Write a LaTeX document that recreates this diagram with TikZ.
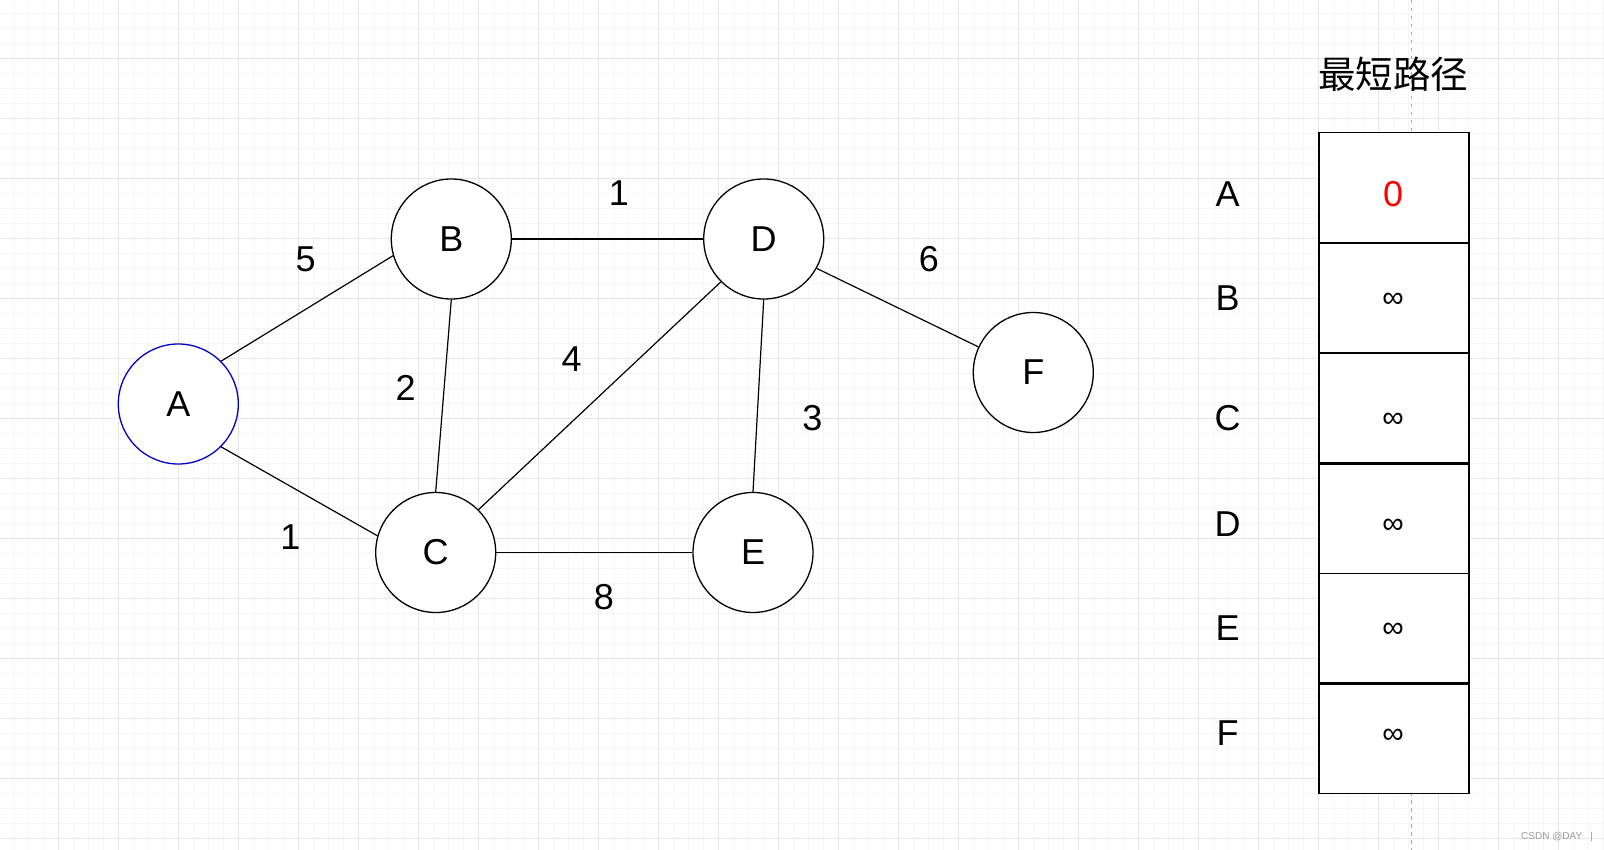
\documentclass[tikz,border=0pt]{standalone}
\usepackage{fontspec}
\setmainfont{Liberation Sans}
\newfontfamily\cjk{Noto Sans CJK SC}
\definecolor{gridmajor}{HTML}{E6E6E6}
\definecolor{gridminor}{HTML}{F5F5F5}
\definecolor{nodeblue}{HTML}{0000CC}
\definecolor{dashgray}{HTML}{A8A8A8}
\definecolor{markgray}{HTML}{999999}
\begin{document}
\begin{tikzpicture}[x=1pt,y=-1pt,
  vertex/.style={circle,draw=black,fill=white,line width=1.3pt,minimum size=120pt,inner sep=0pt,font=\fontsize{36}{40}\selectfont},
  wlabel/.style={inner sep=0pt,font=\fontsize{36}{40}\selectfont},
  infty/.style={inner sep=0pt,font=\fontsize{30}{34}\selectfont},
  edge/.style={line width=1.2pt,draw=black},
  cellbox/.style={draw=black,fill=white,line width=1.4pt},
  thicksep/.style={draw=black,line width=2.6pt}]
\useasboundingbox (0,0) rectangle (1604,850);
\fill[white] (0,0) rectangle (1604,850);
% grid
\foreach \k in {0,...,107} {
  \draw[gridminor,line width=1pt] ({13.3+15*\k},0) -- ({13.3+15*\k},850);
}
\foreach \k in {0,...,56} {
  \draw[gridminor,line width=1pt] (0,{13.3+15*\k}) -- (1604,{13.3+15*\k});
}
\foreach \k in {0,...,26} {
  \draw[gridmajor,line width=1pt] ({58.3+60*\k},0) -- ({58.3+60*\k},850);
}
\foreach \k in {0,...,13} {
  \draw[gridmajor,line width=1pt] (0,{58.3+60*\k}) -- (1604,{58.3+60*\k});
}
% dashed guide
\coordinate (dtop) at (1411.7,0);
\coordinate (dbot) at (1411.7,850);
\draw[dashgray,line width=1.2pt,dash pattern=on 3.5pt off 4.5pt] (dtop) -- (dbot);
% graph
\node[vertex,draw=nodeblue] (A) at (178.3,404) {A};
\node[vertex] (B) at (451.3,239) {B};
\node[vertex] (C) at (435.7,552.5) {C};
\node[vertex] (D) at (763.7,239) {D};
\node[vertex] (E) at (753,552.5) {E};
\node[vertex] (F) at (1033.3,372.5) {F};
\draw[edge] (A.45) -- (B.196);
\draw[edge] (A.315) -- (C.164);
\draw[edge] (B.east) -- (D.west);
\draw[edge] (B.south) -- (C.north);
\draw[edge] (C.45) -- (D.225);
\draw[edge] (D.south) -- (E.north);
\draw[edge] (C.east) -- (E.west);
\draw[edge] (D.331) -- (F.155);
% edge weights
\node[wlabel] (wAB) at (305.7,259) {5};
\node[wlabel] (wBD) at (619,193.3) {1};
\node[wlabel] (wDF) at (929,259.3) {6};
\node[wlabel] (wBC) at (405.7,388.3) {2};
\node[wlabel] (wCD) at (571.7,359.3) {4};
\node[wlabel] (wDE) at (812.3,418.3) {3};
\node[wlabel] (wAC) at (290.5,537) {1};
\node[wlabel] (wCE) at (604,597.3) {8};
% table
\node[inner sep=0pt] (title) at (1393,74) {\cjk\fontsize{37.5}{40}\selectfont 最短路径};
\draw[cellbox] (1319,132.7) rectangle (1469,793.3);
\draw[cellbox] (1319,353) -- (1469,353);
\draw[cellbox] (1319,573.7) -- (1469,573.7);
\draw[thicksep] (1319,243) -- (1469,243);
\draw[thicksep] (1319,463.3) -- (1469,463.3);
\draw[thicksep] (1319,683.3) -- (1469,683.3);
\node[wlabel] (rA) at (1227.7,194) {A};
\node[wlabel] (rB) at (1227.7,298) {B};
\node[wlabel] (rC) at (1227.7,418) {C};
\node[wlabel] (rD) at (1227.7,524) {D};
\node[wlabel] (rE) at (1227.7,628) {E};
\node[wlabel] (rF) at (1227.7,733) {F};
\node[wlabel,text=red] (vA) at (1393,194) {0};
\node[infty] (vB) at (1393,300.5) {∞};
\node[infty] (vC) at (1393,420.5) {∞};
\node[infty] (vD) at (1393,526.7) {∞};
\node[infty] (vE) at (1393,630.5) {∞};
\node[infty] (vF) at (1393,736.5) {∞};
% watermark
\node[inner sep=0pt,anchor=west,text=markgray,font=\fontsize{10}{12}\selectfont] (mark) at (1521,836.7) {CSDN @DAY\hspace{8pt}|};
\end{tikzpicture}
\end{document}
